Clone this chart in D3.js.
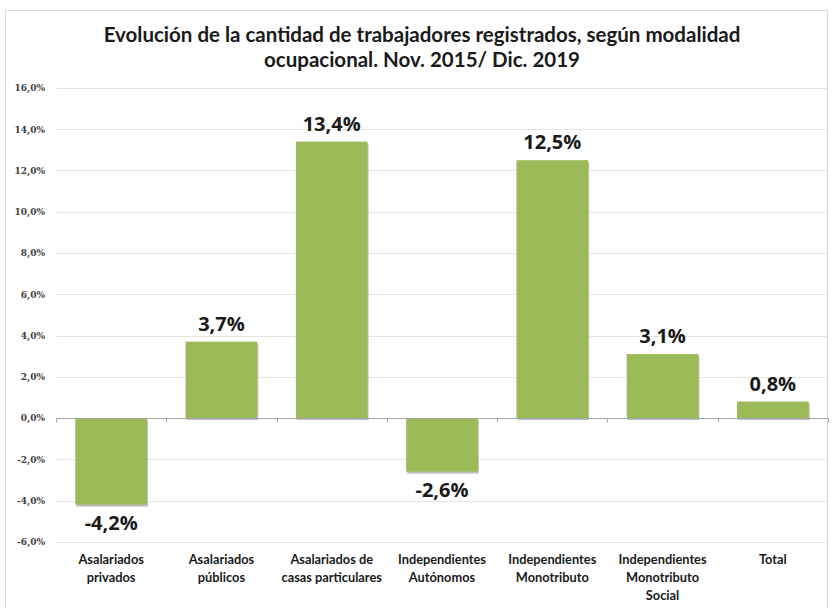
<!DOCTYPE html>
<html><head><meta charset="utf-8">
<script src="https://cdn.jsdelivr.net/npm/d3@7"></script>
<style>body{margin:0;background:#fff;}svg{display:block;}</style>
</head><body>
<script>
const categories = [["Asalariados","privados"],["Asalariados","públicos"],["Asalariados de","casas particulares"],["Independientes","Autónomos"],["Independientes","Monotributo"],["Independientes","Monotributo","Social"],["Total"]];
const values = [-4.2, 3.7, 13.4, -2.6, 12.5, 3.1, 0.8];
const yTicks = [-6,-4,-2,0,2,4,6,8,10,12,14,16];
const titleLines = ["Evolución de la cantidad de trabajadores registrados, según modalidad","ocupacional. Nov. 2015/ Dic. 2019"];

const W=834,H=608;
const svg=d3.select("body").append("svg").attr("width",W).attr("height",H);
svg.append("rect").attr("x",5.5).attr("y",10.5).attr("width",822).attr("height",600).attr("fill","#fff").attr("stroke","#d9d9d9");

const fmt=v=>d3.format(".1f")(v).replace(".",",").replace("−","-")+"%";
const x=d3.scaleBand().domain(d3.range(categories.length)).range([56,828]).paddingInner(0.35).paddingOuter(0.175);
const y=d3.scaleLinear().domain([-6,16]).range([541.75,88]);

// title
svg.append("g").selectAll("text").data(titleLines).join("text")
 .attr("x",422).attr("y",(d,i)=>42+i*25).attr("text-anchor","middle")
 .attr("font-family","Lato, 'Open Sans', sans-serif").attr("font-weight","bold").attr("font-size",20.5).attr("fill","#1a1a1a").text(d=>d);

// grid
svg.append("g").selectAll("line").data(yTicks.filter(d=>d!==0)).join("line")
 .attr("x1",57).attr("x2",828).attr("y1",d=>Math.round(y(d))+0.5).attr("y2",d=>Math.round(y(d))+0.5)
 .attr("stroke","#e6e6dc").attr("stroke-width",1);

// y labels
const ya=svg.append("g").attr("transform","translate(56,0)").call(d3.axisLeft(y).tickValues(yTicks).tickSize(0).tickPadding(11).tickFormat(fmt));
ya.select(".domain").remove();
ya.selectAll("text").attr("font-family","'DejaVu Serif', serif").attr("font-size",9).attr("font-weight","bold").attr("fill","#404040");

// bars shadow
const bw=x.bandwidth();
svg.append("g").selectAll("rect").data(values).join("rect")
 .attr("x",(d,i)=>x(i)+1).attr("y",d=>Math.min(y(d),y(0))+2).attr("width",bw).attr("height",d=>Math.abs(y(d)-y(0)))
 .attr("fill","#bfbfbf");
svg.append("g").selectAll("rect").data(values).join("rect")
 .attr("x",(d,i)=>x(i)).attr("y",d=>Math.min(y(d),y(0))).attr("width",bw).attr("height",d=>Math.abs(y(d)-y(0)))
 .attr("fill","#9bbb59");

// zero axis
const z=Math.round(y(0))+0.5;
svg.append("line").attr("x1",56).attr("x2",828).attr("y1",z).attr("y2",z).attr("stroke","#a6a6a6");
svg.append("g").selectAll("line").data(d3.range(categories.length+1)).join("line")
 .attr("x1",i=>Math.round(56+i*(772/categories.length))+0.5).attr("x2",i=>Math.round(56+i*(772/categories.length))+0.5)
 .attr("y1",z).attr("y2",z+4).attr("stroke","#a6a6a6");

// value labels
svg.append("g").selectAll("text").data(values).join("text")
 .attr("x",(d,i)=>x(i)+bw/2).attr("y",d=>d>=0?y(d)-11:y(d)+25).attr("text-anchor","middle")
 .attr("font-family","'Open Sans', sans-serif").attr("font-weight","bold").attr("font-size",20).attr("fill","#1a1a1a").text(fmt);

// category labels
const cg=svg.append("g").selectAll("text").data(categories).join("text")
 .attr("text-anchor","middle").attr("font-family","Lato, 'Open Sans', sans-serif").attr("font-weight","bold").attr("font-size",12.8).attr("fill","#1a1a1a");
cg.selectAll("tspan").data((d,i)=>d.map(t=>({t,i}))).join("tspan")
 .attr("x",d=>x(d.i)+bw/2).attr("y",(d,j)=>564+j*18).text(d=>d.t);
</script>
</body></html>
